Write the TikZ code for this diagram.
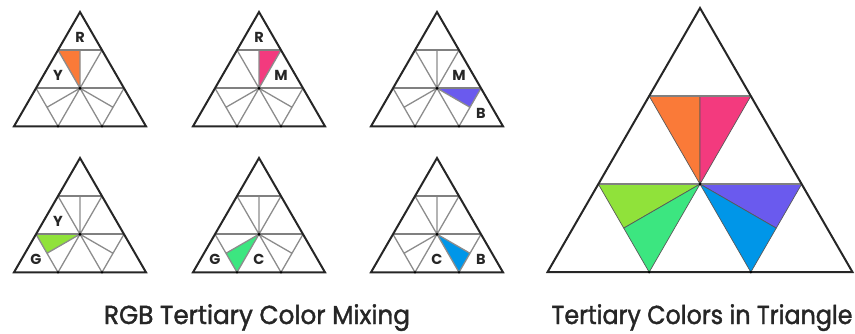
\documentclass[tikz,border=0pt]{standalone}
\usepackage{fontspec}
\usepackage{graphicx}
\setmainfont{Poppins}
\newfontfamily\titlefont[FakeBold=1.6]{Poppins}
\definecolor{tOrange}{RGB}{250,122,56}
\definecolor{tPink}{RGB}{243,58,126}
\definecolor{tPurple}{RGB}{106,90,238}
\definecolor{tLime}{RGB}{144,226,58}
\definecolor{tGreen}{RGB}{60,230,128}
\definecolor{tBlue}{RGB}{0,150,232}
\tikzset{
  outer/.style={draw=black!85,line width=2pt,line join=miter},
  inner/.style={draw=black!45,line width=1.3pt},
  hline/.style={draw=black!50,line width=1.7pt},
  piece/.style={draw=black!65,line width=0.7pt,line join=round},
  lab/.style={font=\bfseries\fontsize{14.5}{16}\selectfont,inner sep=0pt,text=black!85},
  title/.style={anchor=base,inner sep=0pt,text=black!85},
}
\newcommand\tricoords[4]{%
  \pgfmathsetmacro\trS{#4}\pgfmathsetmacro\trH{0.8660254*#4}%
  \begin{scope}[shift={(#2,#3)}]
    \coordinate (#1A) at (0,0);
    \coordinate (#1L1) at (-\trS/6,\trH/3);
    \coordinate (#1M1) at (0,\trH/3);
    \coordinate (#1R1) at (\trS/6,\trH/3);
    \coordinate (#1L2) at (-\trS/3,2*\trH/3);
    \coordinate (#1C) at (0,2*\trH/3);
    \coordinate (#1R2) at (\trS/3,2*\trH/3);
    \coordinate (#1BL) at (-\trS/2,\trH);
    \coordinate (#1B1) at (-\trS/6,\trH);
    \coordinate (#1B2) at (\trS/6,\trH);
    \coordinate (#1BR) at (\trS/2,\trH);
    \coordinate (#1ML) at (-\trS/4,5*\trH/6);
    \coordinate (#1MR) at (\trS/4,5*\trH/6);
    \coordinate (#1cT) at (0,2*\trH/9);
    \coordinate (#1cL) at (-\trS/6,5*\trH/9);
    \coordinate (#1cR) at (\trS/6,5*\trH/9);
    \coordinate (#1cBL) at (-\trS/3,8*\trH/9);
    \coordinate (#1cBM) at (0,8*\trH/9);
    \coordinate (#1cBR) at (\trS/3,8*\trH/9);
  \end{scope}}
\newcommand\smallgrid[1]{%
  \draw[inner] (#1L1)--(#1B2) (#1R1)--(#1B1) (#1L2)--(#1B1) (#1R2)--(#1B2)
               (#1M1)--(#1C) (#1C)--(#1ML) (#1C)--(#1MR);
  \draw[hline] (#1L1)--(#1R1) (#1L2)--(#1R2);
  \draw[outer] (#1A)--(#1BL)--(#1BR)--cycle;
  \fill[black] (#1C) circle[radius=1.7pt] (#1B1) circle[radius=1.3pt] (#1B2) circle[radius=1.3pt];}
\begin{document}
\begin{tikzpicture}[x=1pt,y=-1pt]
\path[use as bounding box] (0,0) rectangle (855,333);
\tricoords{a}{80}{12}{132}
\tricoords{b}{259}{12}{132}
\tricoords{c}{437}{12}{132}
\tricoords{d}{80}{158}{132}
\tricoords{e}{259}{158}{132}
\tricoords{f}{437}{158}{132}
\tricoords{g}{700}{8}{305}
% small triangle fills
\fill[tOrange] (aL1)--(aM1)--(aC)--cycle;
\fill[tPink] (bM1)--(bR1)--(bC)--cycle;
\fill[tPurple] (cC)--(cR2)--(cMR)--cycle;
\fill[tLime] (dL2)--(dC)--(dML)--cycle;
\fill[tGreen] (eML)--(eC)--(eB1)--cycle;
\fill[tBlue] (fC)--(fMR)--(fB2)--cycle;
\smallgrid{a}\smallgrid{b}\smallgrid{c}\smallgrid{d}\smallgrid{e}\smallgrid{f}
% labels
\node[lab] (aR) at (acT) {R};
\node[lab] (aY) at (acL) {Y};
\node[lab] (bR) at (bcT) {R};
\node[lab] (bM) at (bcR) {M};
\node[lab] (cM) at (ccR) {M};
\node[lab] (cB) at (ccBR) {B};
\node[lab] (dY) at (dcL) {Y};
\node[lab] (dG) at (dcBL) {G};
\node[lab] (eG) at (ecBL) {G};
\node[lab] (eC) at (ecBM) {C};
\node[lab] (fC) at (fcBM) {C};
\node[lab] (fB) at (fcBR) {B};
% big triangle
\filldraw[piece,fill=tOrange] (gL1)--(gM1)--(gC)--cycle;
\filldraw[piece,fill=tPink] (gM1)--(gR1)--(gC)--cycle;
\filldraw[piece,fill=tLime] (gL2)--(gC)--(gML)--cycle;
\filldraw[piece,fill=tGreen] (gML)--(gC)--(gB1)--cycle;
\filldraw[piece,fill=tPurple] (gC)--(gR2)--(gMR)--cycle;
\filldraw[piece,fill=tBlue] (gC)--(gMR)--(gB2)--cycle;
\draw[hline] (gL1)--(gR1) (gL2)--(gR2);
\draw[outer] (gA)--(gBL)--(gBR)--cycle;
\fill[black] (gC) circle[radius=1.6pt] (gB1) circle[radius=1.4pt] (gB2) circle[radius=1.4pt];
% titles
\node[title] (t1) at (257,324) {\resizebox{306pt}{\height}{\titlefont\fontsize{26}{30}\selectfont RGB Tertiary Color Mixing}};
\node[title] (t2) at (702,324) {\resizebox{301pt}{\height}{\titlefont\fontsize{26}{30}\selectfont Tertiary Colors in Triangle}};
\end{tikzpicture}
\end{document}
